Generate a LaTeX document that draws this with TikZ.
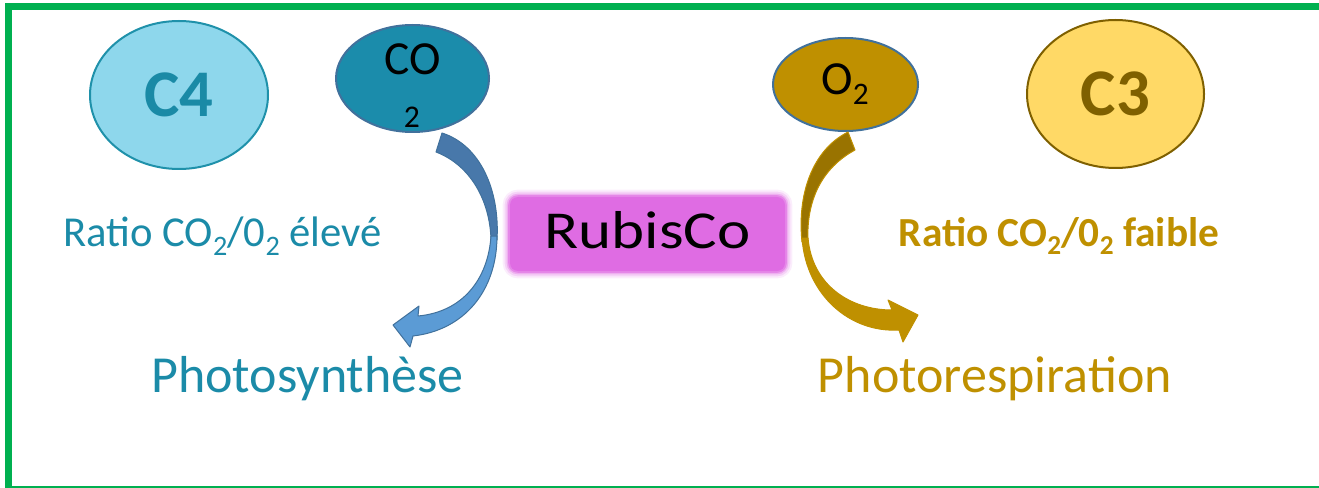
\documentclass[tikz,border=0pt]{standalone}
\usepackage{fontspec}
\setmainfont{Carlito}
\usepackage{graphicx}
\usetikzlibrary{shapes.geometric}
\newcommand{\indice}[1]{\raisebox{-0.19em}{\scalebox{0.66}{#1}}}

\begin{document}
\begin{tikzpicture}[x=0.75pt,y=0.75pt,yscale=-1,xscale=1,
  bubble/.style={ellipse, inner sep=0pt, line width=1.5},
  tealtext/.style={text={rgb, 255:red, 27; green, 139; blue, 168}},
  goldtext/.style={text={rgb, 255:red, 191; green, 144; blue, 0}},
  blueribbon/.style={draw={rgb, 255:red, 65; green, 113; blue, 156}, line width=0.75, line join=round},
  goldribbon/.style={draw={rgb, 255:red, 191; green, 144; blue, 0}, line width=0.75, line join=round}]
\useasboundingbox (0,0) rectangle (1319,488);
\clip (0,0) rectangle (1319,488);
%Shape: Rectangle [frame]
\draw [line width=5.25, color={rgb, 255:red, 0; green, 176; blue, 80}] (8.5,6.5) rectangle (1330,489);

%Shape: Ellipse [C4]
\node [bubble, draw={rgb, 255:red, 31; green, 145; blue, 170}, fill={rgb, 255:red, 142; green, 215; blue, 236}, minimum width=133.5pt, minimum height=111pt, text={rgb, 255:red, 26; green, 138; blue, 166}, font=\fontsize{50}{60}\selectfont\bfseries] (c4) at (179,95) {C4};
%Shape: Ellipse [CO2]
\node [bubble, draw={rgb, 255:red, 65; green, 113; blue, 156}, fill={rgb, 255:red, 27; green, 140; blue, 171}, minimum width=114.75pt, minimum height=80.25pt] (co2) at (412.5,78.5) {};
%Shape: Ellipse [O2]
\node [bubble, draw={rgb, 255:red, 65; green, 113; blue, 156}, fill={rgb, 255:red, 191; green, 144; blue, 0}, minimum width=108.75pt, minimum height=69.75pt] (o2) at (845.5,84.5) {};
%Shape: Ellipse [C3]
\node [bubble, draw={rgb, 255:red, 127; green, 96; blue, 0}, fill={rgb, 255:red, 255; green, 217; blue, 102}, minimum width=132.75pt, minimum height=111pt, text={rgb, 255:red, 127; green, 96; blue, 0}, font=\fontsize{50}{60}\selectfont\bfseries] (c3) at (1115.5,94) {C3};

% Text Node
\node [anchor=base, font=\fontsize{35.6}{40}\selectfont] (co2top) at (413,75) {CO};
% Text Node
\node [anchor=base, font=\fontsize{23.7}{28}\selectfont] (co2sub) at (412,128) {2};
% Text Node
\node [anchor=base, font=\fontsize{35.6}{40}\selectfont] (o2txt) at (845,95) {O\indice{2}};

%Shape: Rectangle [RubisCo, soft edge]
\node [fill={rgb, 255:red, 223; green, 108; blue, 227}, rounded corners=6, minimum width=206.25pt, minimum height=55.5pt, inner sep=0pt] (rubisco) at (647.5,234) {};
\foreach \w/\o in {10.5/0.12, 7.5/0.2, 4.5/0.35, 2.25/0.6} {
  \draw [line width=\w, draw={rgb, 255:red, 223; green, 108; blue, 227}, draw opacity=\o, rounded corners=6] (rubisco.south west) rectangle (rubisco.north east);
}
% Text Node
\node [anchor=base, font=\fontsize{40}{48}\selectfont] (rubiscotxt) at (647.5,248) {\scalebox{1.18}[1]{RubisCo}};

%Curve Lines [blue arrow, back]
\draw [blueribbon, fill={rgb, 255:red, 72; green, 120; blue, 170}] (442,133) .. controls (480,145) and (500,190) .. (497,240) -- (491,240) .. controls (490,200) and (470,165) .. (436,152) -- cycle ;
%Curve Lines [blue arrow, front]
\draw [blueribbon, fill={rgb, 255:red, 91; green, 155; blue, 213}] (491,236) .. controls (488,280) and (462,312) .. (418,316) -- (419,306) -- (393,325) -- (410,347) -- (413,336) .. controls (465,330) and (497,290) .. (497,236) -- cycle ;
%Curve Lines [gold arrow, back]
\draw [goldribbon, fill={rgb, 255:red, 153; green, 115; blue, 0}] (848,132) .. controls (812,150) and (797,195) .. (802,242) -- (808,242) .. controls (806,200) and (822,168) .. (855,150) -- cycle ;
%Curve Lines [gold arrow, front]
\draw [goldribbon, fill={rgb, 255:red, 191; green, 144; blue, 0}] (808,238) .. controls (812,285) and (850,310) .. (892,310) -- (888,300) -- (918,315) -- (903,342) -- (899,330) .. controls (850,333) and (806,295) .. (802,238) -- cycle ;

% Text Node
\node [tealtext, anchor=base, font=\fontsize{32}{38}\selectfont] (ratioC4) at (222.5,247) {Ratio CO\indice{2}/0\indice{2} élevé};
% Text Node
\node [goldtext, anchor=base, font=\fontsize{31}{37}\selectfont\bfseries] (ratioC3) at (1059,247) {Ratio CO\indice{2}/0\indice{2} faible};
% Text Node
\node [tealtext, anchor=base, font=\fontsize{39}{47}\selectfont] (photosyn) at (307.5,392) {Photosynthèse};
% Text Node
\node [goldtext, anchor=base, font=\fontsize{39}{47}\selectfont] (photoresp) at (995,392) {Photorespiration};
\end{tikzpicture}
\end{document}
